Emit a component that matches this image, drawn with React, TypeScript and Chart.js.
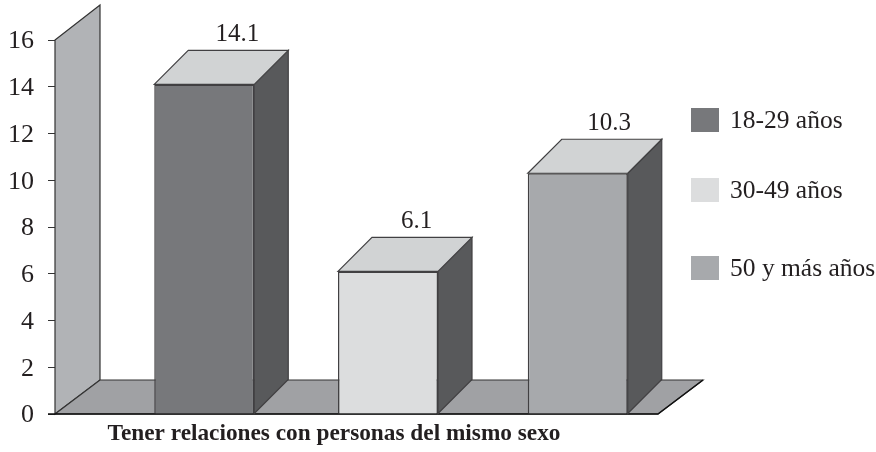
import React, { useEffect, useRef } from "react";
import { Chart, registerables } from "chart.js";

Chart.register(...registerables);

const categories = ["Tener relaciones con personas del mismo sexo"];
const seriesNames = ["18-29 años", "30-49 años", "50 y más años"];
const seriesValues = [14.1, 6.1, 10.3];
const valueLabels = ["14.1", "6.1", "10.3"];
const frontColors = ["#77787b", "#dcddde", "#a7a9ac"];
const legendTops = [108, 178, 256];
const barNudge = [0, -3, 0];
const labelShift = [33, 28.5, 31.5];

const FONT = "'Liberation Serif', serif";
const INK = "#231f20";
const LINE = "#414042";

function poly(ctx: CanvasRenderingContext2D, pts: number[][], fill: string, stroke: string, w = 1.2) {
  ctx.beginPath();
  pts.forEach((p, i) => (i ? ctx.lineTo(p[0], p[1]) : ctx.moveTo(p[0], p[1])));
  ctx.closePath();
  ctx.fillStyle = fill;
  ctx.fill();
  ctx.strokeStyle = stroke;
  ctx.lineWidth = w;
  ctx.stroke();
}

const depthPlugin = {
  id: "depth",
  afterDatasetsUpdate(chart: any) {
    chart.data.datasets.forEach((_: any, i: number) => {
      const el = chart.getDatasetMeta(i).data[0];
      el.x += barNudge[i];
    });
  },
  beforeDatasetsDraw(chart: any) {
    const { ctx } = chart;
    const y = chart.scales.y;
    const l = chart.scales.x.left;
    const t = y.getPixelForValue(16);
    const b = y.getPixelForValue(0);
    const wx = 45;
    const floorY = b - 34;
    ctx.save();
    poly(ctx, [[l, t], [l + wx, t - 35], [l + wx, floorY], [l, b]], "#b1b3b6", "#333333");
    poly(ctx, [[l, b], [l + wx, floorY], [l + wx + 603, floorY], [l + 603, b]], "#a0a1a4", "#333333");
    ctx.strokeStyle = "#111111";
    ctx.lineWidth = 1.4;
    ctx.beginPath();
    ctx.moveTo(l - 7, b);
    ctx.lineTo(l + 603, b);
    ctx.lineTo(l + 603 + wx, floorY);
    ctx.stroke();
    ctx.restore();
  },
  afterDatasetsDraw(chart: any) {
    const { ctx } = chart;
    const dx = 34;
    const dy = 34;
    ctx.save();
    chart.data.datasets.forEach((_: any, i: number) => {
      const el = chart.getDatasetMeta(i).data[0];
      const left = el.x - el.width / 2;
      const right = el.x + el.width / 2;
      poly(ctx, [[right, el.y], [right + dx, el.y - dy], [right + dx, el.base - dy], [right, el.base]], "#58595b", LINE);
      poly(ctx, [[left, el.y], [left + dx, el.y - dy], [right + dx, el.y - dy], [right, el.y]], "#d1d3d4", LINE);
      ctx.fillStyle = INK;
      ctx.font = `25px ${FONT}`;
      ctx.textAlign = "center";
      ctx.textBaseline = "alphabetic";
      ctx.fillText(valueLabels[i], el.x + labelShift[i], el.y - 43);
    });
    ctx.restore();
  },
  afterDraw(chart: any) {
    const { ctx } = chart;
    ctx.save();
    chart.data.datasets.forEach((ds: any, i: number) => {
      ctx.fillStyle = ds.backgroundColor;
      ctx.fillRect(691, legendTops[i], 28, 24);
      ctx.fillStyle = INK;
      ctx.font = `25.5px ${FONT}`;
      ctx.textAlign = "left";
      ctx.textBaseline = "middle";
      ctx.fillText(ds.label, 730, legendTops[i] + 13);
    });
    ctx.font = `bold 23.3px ${FONT}`;
    ctx.textAlign = "center";
    ctx.textBaseline = "alphabetic";
    ctx.fillStyle = INK;
    ctx.fillText(categories[0], 334, 440);
    ctx.restore();
  },
};

export default function App() {
  const ref = useRef<HTMLCanvasElement>(null);
  useEffect(() => {
    const chart = new Chart(ref.current!, {
      type: "bar",
      data: {
        labels: categories,
        datasets: seriesNames.map((name, i) => ({
          label: name,
          data: [seriesValues[i]],
          backgroundColor: frontColors[i],
          borderColor: LINE,
          borderWidth: 1.5,
          barPercentage: 0.5355,
          categoryPercentage: 0.8337,
        })),
      },
      options: {
        animation: false,
        responsive: false,
        layout: { padding: { top: 40, right: 149, left: 0, bottom: 0 } },
        plugins: { legend: { display: false }, title: { display: false }, tooltip: { enabled: false } },
        scales: {
          x: {
            ticks: { display: false },
            grid: { display: false },
            border: { display: false },
            afterFit: (s: any) => { s.height = 38; },
          },
          y: {
            min: 0,
            max: 16,
            ticks: { stepSize: 2, padding: 14, labelOffset: 1.5, color: INK, font: { family: FONT, size: 26 } },
            grid: { drawOnChartArea: false, drawTicks: true, tickLength: 7, color: "#333333", tickColor: "#333333" },
            border: { display: false },
            afterFit: (s: any) => { s.width = 55; },
          },
        },
      },
      plugins: [depthPlugin],
    } as any);
    return () => chart.destroy();
  }, []);
  return (
    <div style={{ position: "absolute", left: 0, top: 0, width: 876, height: 452 }}>
      <canvas ref={ref} width={876} height={452} style={{ display: "block" }} />
    </div>
  );
}
